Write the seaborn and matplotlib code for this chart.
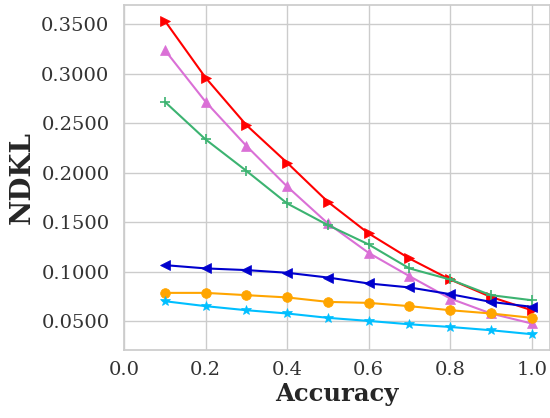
import numpy as np
import pandas as pd
import matplotlib
matplotlib.use("Agg")
import matplotlib.pyplot as plt
import seaborn as sns
from matplotlib.ticker import FormatStrFormatter

# Data
accuracy = [0.1, 0.2, 0.3, 0.4, 0.5, 0.6, 0.7, 0.8, 0.9, 1.0]

red_vals = [0.3533, 0.2958, 0.2480, 0.2100, 0.1705, 0.1386, 0.1133, 0.0921, 0.0745, 0.0611]
pink_vals = [0.3237, 0.2715, 0.2270, 0.1860, 0.1487, 0.1190, 0.0955, 0.0729, 0.0578, 0.0477]
green_vals = [0.2715, 0.2335, 0.2018, 0.1689, 0.1470, 0.1275, 0.1033, 0.0921, 0.0763, 0.0712]
blue_vals = [0.1066, 0.1033, 0.1016, 0.0989, 0.0941, 0.0881, 0.0841, 0.0773, 0.0695, 0.0645]
orange_vals = [0.0786, 0.0786, 0.0763, 0.0740, 0.0695, 0.0685, 0.0652, 0.0611, 0.0578, 0.0534]
cyan_vals = [0.0702, 0.0652, 0.0611, 0.0578, 0.0534, 0.0503, 0.0469, 0.0442, 0.0409, 0.0369]

series = [
    ("red", red_vals, "red", ">"),
    ("pink", pink_vals, "orchid", "^"),
    ("green", green_vals, "mediumseagreen", "+"),
    ("blue", blue_vals, "mediumblue", "<"),
    ("orange", orange_vals, "orange", "o"),
    ("cyan", cyan_vals, "deepskyblue", "*"),
]

sns.set_theme(style="whitegrid")
plt.rcParams["font.family"] = ["DejaVu Serif"]

fig = plt.figure(figsize=(5.5, 4.18), dpi=100)
ax = fig.add_axes([0.2255, 0.163, 0.7745, 0.825])

for name, vals, color, marker in series:
    df = pd.DataFrame({"Accuracy": accuracy, "NDKL": vals})
    sns.lineplot(data=df, x="Accuracy", y="NDKL", color=color, marker=marker,
                 markersize=7, linewidth=1.5, markeredgecolor=color,
                 markeredgewidth=1.2 if marker == "+" else 0.5, ax=ax)

ax.set_xlim(0.0, 1.045)
ax.set_xticks([0.0, 0.2, 0.4, 0.6, 0.8, 1.0])
ax.yaxis.set_major_formatter(FormatStrFormatter("%.4f"))
ax.tick_params(labelsize=14, colors=".2", length=0)
ax.tick_params(axis="x", pad=8)
ax.tick_params(axis="y", pad=10.5)
ax.set_xlabel("Accuracy", fontsize=17.5, fontweight="bold", labelpad=2)
ax.set_ylabel("NDKL", fontsize=20, fontweight="bold", labelpad=4)

fig.savefig("out.png", dpi=100)
